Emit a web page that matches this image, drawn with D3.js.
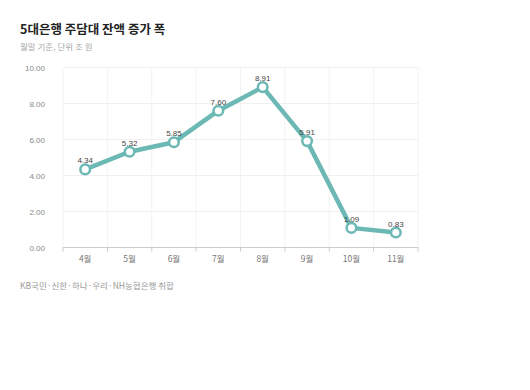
<!DOCTYPE html>
<html><head><meta charset="utf-8">
<script src="https://cdn.jsdelivr.net/npm/d3@7/dist/d3.min.js"></script>
<style>
body{margin:0;background:#fff;font-family:"Noto Sans CJK KR","Noto Sans",sans-serif;}
svg{display:block;}
</style></head>
<body>
<svg id="chart" width="530" height="390"></svg>
<script>
const title = "5대은행 주담대 잔액 증가 폭";
const subtitle = "월말 기준, 단위 조 원";
const source = "KB국민·신한·하나·우리·NH농협은행 취합";
const months = ["4월","5월","6월","7월","8월","9월","10월","11월"];
const values = [4.34, 5.32, 5.85, 7.60, 8.91, 5.91, 1.09, 0.83];
const yTicks = [0, 2, 4, 6, 8, 10];

const svg = d3.select("#chart");
const m = {left:63, right:418, top:67.5, bottom:247.5};
const x = d3.scaleBand().domain(months).range([m.left, m.right]).padding(0);
const y = d3.scaleLinear().domain([0, 10]).range([m.bottom, m.top]);

svg.append("text").attr("x", 20).attr("y", 34).attr("fill", "#222")
  .attr("font-size", 12.5).attr("font-weight", "bold").text(title);
svg.append("text").attr("x", 20).attr("y", 50).attr("fill", "#aaa")
  .attr("font-size", 8.5).text(subtitle);
svg.append("text").attr("x", 20).attr("y", 289).attr("fill", "#999")
  .attr("font-size", 8.5).text(source);

// horizontal gridlines
svg.append("g").selectAll("line").data(yTicks.filter(d => d > 0)).join("line")
  .attr("x1", m.left).attr("x2", m.right)
  .attr("y1", d => y(d)).attr("y2", d => y(d))
  .attr("stroke", "#f0f0f0").attr("stroke-width", 1);
// vertical gridlines
const bounds = months.map(d => x(d)).concat([m.right]);
svg.append("g").selectAll("line").data(bounds).join("line")
  .attr("x1", d => d).attr("x2", d => d)
  .attr("y1", m.top).attr("y2", m.bottom)
  .attr("stroke", "#f3f3f3").attr("stroke-width", 1);

// y axis labels
const yAxis = d3.axisLeft(y).tickValues(yTicks).tickFormat(d3.format(".2f")).tickSize(0).tickPadding(0);
const ya = svg.append("g").attr("transform", "translate(45,0)").call(yAxis);
ya.select(".domain").remove();
ya.selectAll("text").attr("fill", "#888").attr("font-size", 8)
  .attr("font-family", "Liberation Sans, Arial, sans-serif");

// x axis
const xa = svg.append("g").attr("transform", `translate(0,${m.bottom})`);
xa.append("line").attr("x1", m.left).attr("x2", m.right).attr("y1", 0).attr("y2", 0)
  .attr("stroke", "#ccc");
xa.selectAll("line.tk").data(bounds).join("line").attr("class","tk")
  .attr("x1", d => d).attr("x2", d => d).attr("y1", 0).attr("y2", 4).attr("stroke", "#ccc");
xa.selectAll("text").data(months).join("text")
  .attr("x", d => x(d) + x.bandwidth()/2).attr("y", 14)
  .attr("text-anchor", "middle").attr("fill", "#777").attr("font-size", 8.5).text(d => d);

const data = months.map((mo, i) => ({m: mo, v: values[i]}));
const cx = d => x(d.m) + x.bandwidth()/2;

svg.append("path").datum(data)
  .attr("d", d3.line().x(cx).y(d => y(d.v)))
  .attr("fill", "none").attr("stroke", "#6bb8b4").attr("stroke-width", 4.5)
  .attr("stroke-linejoin", "round");

svg.append("g").selectAll("circle").data(data).join("circle")
  .attr("cx", cx).attr("cy", d => y(d.v)).attr("r", 4.8)
  .attr("fill", "#fff").attr("stroke", "#6bb8b4").attr("stroke-width", 2.5);

svg.append("g").selectAll("text").data(data).join("text")
  .attr("x", cx).attr("y", d => y(d.v) - 6)
  .attr("text-anchor", "middle").attr("fill", "#444").attr("font-size", 8)
  .attr("font-family", "Liberation Sans, Arial, sans-serif")
  .text(d => d.v.toFixed(2));
</script>
</body></html>
